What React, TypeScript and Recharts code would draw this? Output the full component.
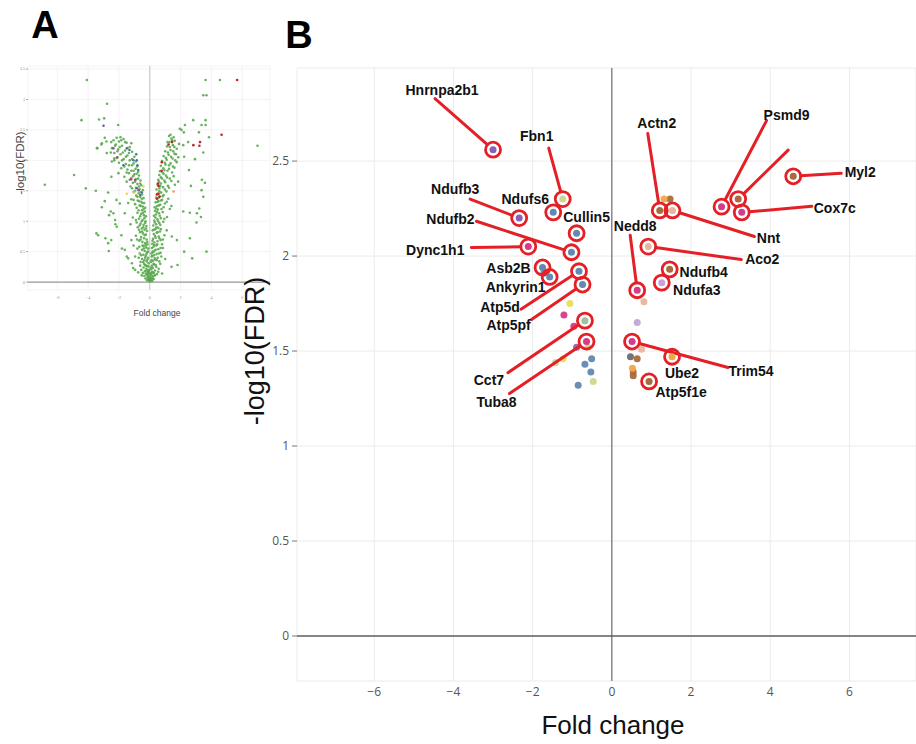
import React from 'react';
import { ScatterChart, Scatter, XAxis, YAxis, CartesianGrid, ReferenceLine } from 'recharts';

// ---- panel A: whole volcano plot (fold change vs -log10 FDR) ----
const aGreen: number[][] = [
  // outliers left
  [-4.08, 3.32], [-2.77, 2.93], [-4.43, 2.66], [-3.29, 2.67], [-2.96, 2.69], [-2.05, 2.58], [-2.92, 2.37],
  [-2.81, 2.31], [-3.14, 2.26], [-3.4, 2.2], [-2.53, 2.13], [-2.31, 2.03], [-4.91, 1.76], [-6.81, 1.6],
  [-4.15, 1.54], [-3.5, 1.5], [-2.7, 1.47], [-2.49, 1.73], [-2.92, 1.33], [-3.11, 1.23], [-2.53, 1.16],
  [-2.64, 1.1], [-2.23, 0.95], [-3.46, 0.8], [-3.35, 0.77], [-2.88, 0.72], [-2.7, 0.64], [-2.66, 0.51],
  [-2.5, 0.69], [-2.14, 0.91], [-1.84, 0.77], [-1.81, 0.55], [-1.62, 0.53], [-1.4, 0.39], [-1.49, 0.42],
  [-1.16, 0.31], [-1.08, 0.23], [-0.95, 0.2], [-1.19, 0.69], [-2.16, 1.35], [-1.94, 1.29], [-1.62, 1.13],
  [-2.36, 1.13], [-2.25, 1.02], [-3.43, 2.2], [-3.11, 2.28], [-2.79, 2.12], [-2.46, 1.98], [-2.03, 1.79],
  // outliers right
  [3.62, 3.32], [4.55, 3.32], [3.47, 3.07], [3.68, 3.07], [2.82, 2.66], [3.62, 2.66], [2.28, 2.58],
  [3.36, 2.58], [3.62, 2.58], [1.95, 2.52], [2.06, 2.5], [2.21, 2.46], [3.19, 2.46], [3.84, 2.38],
  [6.99, 2.24], [2.49, 2.3], [2.17, 2.25], [3.47, 2.13], [2.23, 2.06], [2.93, 2.02], [2.54, 1.84],
  [3.58, 1.63], [3.38, 1.68], [2.67, 1.58], [3.47, 1.4], [3.36, 1.51], [2.17, 1.16], [2.6, 1.14],
  [3.21, 1.21], [3.06, 1.13], [3.32, 1.07], [3.03, 0.98], [2.6, 0.72], [2.23, 0.5], [3.68, 0.5],
  [2.75, 0.39], [1.8, 0.28], [1.41, 0.25], [1.84, 1.65], [1.63, 1.6], [1.43, 0.75], [1.76, 0.69],
  // bottom of the V
  [-0.02, 0.01], [0.03, 0.02], [-0.06, 0.03], [0.08, 0.02], [-0.11, 0.05], [0.12, 0.04], [-0.04, 0.06],
  [0.05, 0.07], [-0.15, 0.08], [0.17, 0.07], [-0.09, 0.1], [0.1, 0.11], [-0.2, 0.12], [0.22, 0.1],
  [-0.01, 0.09], [-0.26, 0.14], [0.27, 0.15], [-0.13, 0.16], [0.14, 0.17], [-0.32, 0.18], [0.34, 0.19],
  [-0.06, 0.2], [0.07, 0.21], [-0.22, 0.22], [0.2, 0.23], [-0.4, 0.24], [0.42, 0.25], [-0.15, 0.26],
  [0.15, 0.27], [-0.3, 0.28], [0.3, 0.29], [-0.55, 0.2], [0.58, 0.22], [-0.75, 0.16], [0.8, 0.14],
  [-0.62, 0.27], [0.68, 0.3], [0.03, 0.14], [-0.04, 0.15],
  [-0.07, 0.04], [-0.18, 0.03], [-0.28, 0.06], [-0.12, 0.13], [-0.35, 0.1], [-0.45, 0.15], [-0.08, 0.18],
  [-0.19, 0.19], [-0.52, 0.11], [-0.24, 0.27], [-0.37, 0.3], [-0.1, 0.26], [0.06, 0.05], [0.16, 0.02],
  [0.26, 0.05], [0.11, 0.14], [0.33, 0.11], [0.46, 0.13], [0.08, 0.24], [0.2, 0.16], [0.55, 0.17],
  [0.25, 0.3], [0.38, 0.28],
  // arms
  [-0.08, 0.31], [0.09, 0.33], [-0.2, 0.34], [0.22, 0.35], [-0.35, 0.36], [0.36, 0.37], [-0.5, 0.38],
  [0.52, 0.4], [-0.12, 0.4], [0.13, 0.42], [-0.27, 0.43], [0.28, 0.44], [-0.42, 0.45], [0.44, 0.46],
  [-0.65, 0.47], [0.7, 0.48], [-0.17, 0.49], [0.18, 0.5], [-0.33, 0.51], [0.32, 0.52], [-0.5, 0.53],
  [0.55, 0.54], [-0.8, 0.55], [0.85, 0.56], [-0.23, 0.57], [0.24, 0.58], [-0.4, 0.59], [0.42, 0.6],
  [-0.95, 0.42], [1.0, 0.38], [-0.1, 0.55], [0.11, 0.47],
  [-0.6, 0.33], [-0.15, 0.37], [-0.3, 0.4], [-0.44, 0.33], [-0.72, 0.4], [-0.22, 0.46], [-0.56, 0.44],
  [-0.12, 0.5], [-0.38, 0.55], [-0.68, 0.58], [-0.27, 0.61], [-0.47, 0.6], [0.12, 0.36], [0.62, 0.34],
  [0.17, 0.43], [0.32, 0.39], [0.45, 0.36], [0.75, 0.42], [0.23, 0.49], [0.58, 0.47], [0.14, 0.56],
  [0.38, 0.53], [0.7, 0.56], [0.28, 0.61], [0.48, 0.62],
  [-0.15, 0.62], [0.16, 0.63], [-0.3, 0.64], [0.3, 0.65], [-0.48, 0.66], [0.5, 0.67], [-0.68, 0.68],
  [0.7, 0.69], [-0.2, 0.7], [0.21, 0.71], [-0.37, 0.72], [0.38, 0.73], [-0.56, 0.74], [0.58, 0.75],
  [-0.9, 0.76], [0.95, 0.77], [-0.25, 0.78], [0.26, 0.79], [-0.44, 0.8], [0.45, 0.81], [-0.63, 0.82],
  [0.66, 0.83], [-0.18, 0.84], [0.19, 0.85], [-0.34, 0.86], [0.36, 0.87], [-0.52, 0.88], [0.55, 0.89],
  [-0.78, 0.9], [0.8, 0.62], [-1.05, 0.6], [1.1, 0.85],
  [-0.16, 0.66], [-0.6, 0.7], [-0.33, 0.77], [-0.82, 0.7], [-0.5, 0.83], [-0.24, 0.88], [-0.7, 0.86],
  [-0.42, 0.9], [0.18, 0.68], [0.62, 0.72], [0.34, 0.76], [0.85, 0.7], [0.5, 0.82], [0.26, 0.86],
  [0.72, 0.87], [0.43, 0.9],
  [-0.22, 0.92], [0.23, 0.93], [-0.4, 0.94], [0.42, 0.95], [-0.6, 0.96], [0.62, 0.97], [-0.85, 0.98],
  [0.88, 0.99], [-0.28, 1.0], [0.3, 1.01], [-0.47, 1.02], [0.5, 1.03], [-0.7, 1.04], [0.72, 1.05],
  [-1.1, 1.06], [1.12, 1.07], [-0.25, 1.08], [0.27, 1.09], [-0.38, 1.1], [0.4, 1.11], [-0.56, 1.12],
  [0.6, 1.13], [-0.8, 1.14], [0.84, 1.15], [-0.32, 1.16], [0.34, 1.17], [-0.5, 1.18], [0.52, 1.19],
  [-1.25, 0.95], [1.3, 1.2],
  [-0.3, 0.97], [-0.66, 0.93], [-0.52, 1.0], [-0.9, 1.02], [-0.35, 1.05], [-0.62, 1.08], [-0.44, 1.14],
  [-0.72, 1.18], [-0.4, 1.2], [0.32, 0.98], [0.68, 0.94], [0.54, 1.0], [0.95, 1.04], [0.37, 1.06],
  [0.65, 1.09], [0.46, 1.15], [0.76, 1.2], [0.42, 1.21],
  [-0.3, 1.22], [0.32, 1.23], [-0.45, 1.24], [0.47, 1.25], [-0.66, 1.26], [0.68, 1.27], [-0.95, 1.28],
  [0.98, 1.29], [-0.36, 1.3], [0.38, 1.31], [-0.55, 1.32], [0.56, 1.33], [-0.78, 1.34], [0.8, 1.35],
  [-1.2, 1.36], [1.2, 1.37], [-0.4, 1.38], [0.42, 1.39], [-0.62, 1.4], [0.64, 1.41], [-0.88, 1.42],
  [0.9, 1.43], [-0.5, 1.44], [0.5, 1.45], [-0.72, 1.46], [0.74, 1.47], [-1.05, 1.48], [1.08, 1.49],
  [-1.4, 1.3], [1.4, 1.25],
  [-0.58, 1.25], [-0.85, 1.22], [-0.48, 1.3], [-0.7, 1.33], [-1.05, 1.35], [-0.52, 1.37], [-0.8, 1.4],
  [-0.6, 1.48], [-0.95, 1.5], [0.6, 1.26], [0.9, 1.23], [0.5, 1.32], [0.72, 1.34], [1.1, 1.32],
  [0.55, 1.38], [0.84, 1.41], [0.62, 1.49], [0.98, 1.52],
  [-0.45, 1.51], [0.44, 1.52], [-0.66, 1.53], [0.62, 1.54], [-0.9, 1.55], [0.86, 1.56], [-1.25, 1.57],
  [1.18, 1.58], [-0.55, 1.59], [0.5, 1.6], [-0.8, 1.61], [0.72, 1.62], [-1.1, 1.63], [1.0, 1.64],
  [-1.5, 1.65], [1.4, 1.66], [-0.6, 1.67], [0.55, 1.68], [-0.88, 1.69], [0.8, 1.7], [-1.2, 1.71],
  [1.12, 1.72], [-1.65, 1.73], [1.55, 1.74], [-0.7, 1.75], [0.62, 1.76], [-1.0, 1.77], [0.9, 1.78],
  [-1.35, 1.79],
  [-0.7, 1.57], [-1.15, 1.54], [-0.62, 1.62], [-0.95, 1.65], [-1.3, 1.68], [-0.75, 1.7], [-1.08, 1.74],
  [-0.85, 1.78], [0.68, 1.58], [1.25, 1.55], [0.6, 1.65], [0.95, 1.67], [1.3, 1.7], [0.72, 1.72],
  [1.05, 1.75], [0.82, 1.8],
  [-0.75, 1.81], [0.66, 1.82], [-1.05, 1.83], [0.95, 1.84], [-1.45, 1.85], [1.25, 1.86], [-1.85, 1.87],
  [1.6, 1.88], [-0.82, 1.9], [0.72, 1.91], [-1.15, 1.92], [1.02, 1.93], [-1.55, 1.94], [1.35, 1.95],
  [-2.0, 1.96], [1.75, 1.97], [-0.9, 1.98], [0.8, 1.99], [-1.3, 2.0], [1.1, 2.01], [-1.7, 2.02],
  [1.48, 2.03], [-2.15, 2.04], [1.85, 2.05], [-1.0, 2.06], [0.9, 2.07], [-1.45, 2.08], [1.22, 2.09],
  [-1.5, 1.8], [-1.2, 1.83], [-0.92, 1.86], [-1.65, 1.9], [-1.35, 1.92], [-1.05, 1.95], [-1.8, 2.0],
  [-1.15, 2.02], [-1.55, 2.06], [-2.3, 2.0], [1.45, 1.8], [1.15, 1.83], [0.88, 1.87], [1.5, 1.9],
  [1.25, 1.92], [0.98, 1.96], [1.65, 2.0], [1.05, 2.04], [1.38, 2.06],
  [-1.9, 2.1], [1.6, 2.11], [-2.3, 2.12], [-1.15, 2.14], [1.0, 2.15], [-1.6, 2.16], [1.35, 2.17],
  [-2.05, 2.18], [1.75, 2.19], [-2.45, 2.2], [-1.3, 2.22], [1.12, 2.23], [-1.8, 2.24], [1.5, 2.25],
  [-2.2, 2.26], [1.9, 2.27], [-1.5, 2.29], [1.28, 2.3], [-2.0, 2.31], [1.62, 2.32], [-2.35, 2.33],
  [-1.7, 2.35], [1.4, 2.36], [-2.15, 2.37], [1.25, 2.4], [-1.9, 2.38], [-2.5, 2.3],
  [-1.35, 2.12], [-1.75, 2.13], [-2.1, 2.15], [-1.45, 2.2], [-1.95, 2.22], [-1.6, 2.3], [-1.2, 2.28],
  [-2.25, 2.24], [-1.85, 2.33], [1.7, 2.1], [1.18, 2.13], [1.52, 2.15], [1.3, 2.22], [1.6, 2.22],
  [1.45, 2.33], [1.15, 2.3], [1.35, 2.42], [1.55, 2.38],
];
const aRed = [
  [5.67, 3.32], [4.66, 2.42], [3.26, 2.3], [3.22, 2.24], [2.83, 2.25], [1.45, 2.3], [1.22, 2.26],
  [0.78, 1.97], [0.77, 1.83], [0.57, 1.58], [0.53, 1.62], [0.63, 1.4], [0.46, 1.44], [0.46, 1.37], [0.57, 1.45],
];
const aPurple = [[-3.0, 2.57], [-2.36, 2.2], [-0.84, 1.54], [-0.73, 1.51]];
const aMagenta = [[-2.1, 2.05], [-1.21, 1.69], [-0.95, 1.68]];
const aBlue = [
  [-1.71, 1.92], [-1.49, 2.2], [-1.32, 2.17], [-0.88, 2.1], [-1.06, 2.0], [-0.84, 2.0], [-0.8, 1.92],
  [-0.75, 1.84], [-0.51, 1.47], [-0.62, 1.43],
];
const aYellow = [[-0.41, 1.57], [-0.99, 1.47], [-1.49, 1.45]];
const aOrange = [[1.54, 1.49]];

const foldTicks = [-6, -4, -2, 0, 2, 4, 6];
const aFdrTicks = [0, 0.5, 1, 1.5, 2, 2.5, 3, 3.5];
const bFdrTicks = [0, 0.5, 1, 1.5, 2, 2.5];

// ---- panel B: the significant proteins, named ----
const genes = [
  { name: 'Hnrnpa2b1', fc: -3.0, fdr: 2.56, group: 'purple' },
  { name: 'Fbn1', fc: -1.24, fdr: 2.3, group: 'lime' },
  { name: 'Ndufs6', fc: -1.48, fdr: 2.23, group: 'blue' },
  { name: 'Ndufb3', fc: -2.34, fdr: 2.2, group: 'purple' },
  { name: 'Cullin5', fc: -0.89, fdr: 2.12, group: 'blue' },
  { name: 'Ndufb2', fc: -1.02, fdr: 2.02, group: 'blue' },
  { name: 'Dync1h1', fc: -2.11, fdr: 2.05, group: 'magenta' },
  { name: 'Asb2B', fc: -1.75, fdr: 1.94, group: 'blue' },
  { name: 'Ankyrin1', fc: -1.57, fdr: 1.89, group: 'blue' },
  { name: 'Atp5d', fc: -0.83, fdr: 1.92, group: 'blue' },
  { name: 'Atp5pf', fc: -0.74, fdr: 1.85, group: 'blue' },
  { name: 'Cct7', fc: -0.68, fdr: 1.66, group: 'sage' },
  { name: 'Tuba8', fc: -0.64, fdr: 1.55, group: 'magenta' },
  { name: 'Nedd8', fc: 0.64, fdr: 1.82, group: 'magenta' },
  { name: 'Aco2', fc: 0.92, fdr: 2.05, group: 'peach' },
  { name: 'Ndufb4', fc: 1.46, fdr: 1.93, group: 'brown' },
  { name: 'Ndufa3', fc: 1.26, fdr: 1.86, group: 'lavender' },
  { name: 'Trim54', fc: 0.51, fdr: 1.55, group: 'magenta' },
  { name: 'Ube2', fc: 1.52, fdr: 1.47, group: 'orange' },
  { name: 'Atp5f1e', fc: 0.94, fdr: 1.34, group: 'brown' },
  { name: 'Actn2', fc: 1.21, fdr: 2.24, group: 'brown' },
  { name: 'Nnt', fc: 1.53, fdr: 2.24, group: 'peach' },
  { name: 'Psmd9', fc: 2.77, fdr: 2.26, group: 'magenta' },
  { name: '', fc: 3.19, fdr: 2.3, group: 'brown' },
  { name: 'Cox7c', fc: 3.28, fdr: 2.23, group: 'magenta' },
  { name: 'Myl2', fc: 4.58, fdr: 2.42, group: 'brown' },
];
const bOthers: Record<string, number[][]> = {
  blue: [[-0.51, 1.46], [-0.68, 1.43], [-0.53, 1.39], [-0.85, 1.32], [-1.72, 1.91]],
  magenta: [[-1.21, 1.69], [-0.96, 1.63]],
  purple: [[-0.89, 1.52]],
  yellow: [[-1.06, 1.75], [-1.23, 1.46]],
  lime: [[-0.6, 1.52], [-1.42, 1.44], [-0.47, 1.34]],
  peach: [[0.81, 1.76], [0.75, 1.51]],
  lavender: [[0.64, 1.65]],
  grey: [[0.47, 1.47]],
  brown: [[0.64, 1.46], [0.54, 1.39], [0.54, 1.37], [1.47, 2.3]],
  orange: [[0.52, 1.41], [1.32, 2.3]],
};

const palette: Record<string, string> = {
  blue: '#6389b0', magenta: '#d63a88', purple: '#8a61b4', lime: '#cbd78e', sage: '#9fc29c',
  yellow: '#ecdc5a', brown: '#a86b3d', orange: '#f3a744', peach: '#e8b59d', lavender: '#c3a5d7',
  grey: '#6d6d6d',
};

// label centre and leader-line start, in px relative to the point
const callouts: Record<string, { label?: number[]; line?: number[] }> = {
  Hnrnpa2b1: { label: [-51, -60], line: [-58, -51] },
  Fbn1: { label: [-26, -63], line: [-14, -51] },
  Ndufs6: { label: [-28, -13] },
  Ndufb3: { label: [-64, -29], line: [-49, -19] },
  Cullin5: { label: [10, -16] },
  Ndufb2: { label: [-121, -33], line: [-95, -31] },
  Dync1h1: { label: [-93, 3], line: [-57, 1] },
  Asb2B: { label: [-34, 1] },
  Ankyrin1: { label: [-34, 10] },
  Atp5d: { label: [-79, 36], line: [-58, 38] },
  Atp5pf: { label: [-74, 40], line: [-51, 35] },
  Cct7: { label: [-96, 59], line: [-77, 52] },
  Tuba8: { label: [-90, 60], line: [-77, 52] },
  Nedd8: { label: [-2, -64], line: [-7, -55] },
  Aco2: { label: [114, 12], line: [93, 13] },
  Ndufb4: { label: [34, 3] },
  Ndufa3: { label: [35, 7] },
  Trim54: { label: [119, 29], line: [96, 26] },
  Ube2: { label: [10, 16] },
  Atp5f1e: { label: [32, 11] },
  Actn2: { label: [-3, -87], line: [-12, -77] },
  Nnt: { label: [96, 28], line: [82, 26] },
  Psmd9: { label: [65, -92], line: [45, -86] },
  '': { line: [50, -49] },
  Cox7c: { label: [93, -4], line: [70, -6] },
  Myl2: { label: [67, -4], line: [48, -3] },
};

const RED = '#e41f26';
const ARIAL = '"Liberation Sans", Arial, sans-serif';
const toXY = (pts: number[][]) => pts.map(([x, y]) => ({ x, y }));
const fmtFold = (v: number) => (v < 0 ? '\u2212' + Math.abs(v) : String(v));

const dot = (r: number, fill: string, opacity = 1) => (p: any) => (
  <circle cx={p.cx} cy={p.cy} r={r} fill={fill} fillOpacity={opacity} />
);

const GeneMark = (p: any) => {
  const { cx, cy, payload } = p;
  const c = callouts[payload.name] || {};
  const R = 7.5;
  let line = null;
  if (c.line) {
    const [dx, dy] = c.line;
    const d = Math.hypot(dx, dy);
    line = (
      <line x1={cx + dx} y1={cy + dy} x2={cx + (dx / d) * R} y2={cy + (dy / d) * R}
        stroke={RED} strokeWidth={3} strokeLinecap="round" />
    );
  }
  return (
    <g>
      {line}
      <circle cx={cx} cy={cy} r={3.5} fill={palette[payload.group]} />
      <circle cx={cx} cy={cy} r={R} fill="none" stroke={RED} strokeWidth={2.8} />
      {c.label && payload.name && (
        <text x={cx + c.label[0]} y={cy + c.label[1]} textAnchor="middle" dominantBaseline="central"
          fontFamily={ARIAL} fontWeight="bold" fontSize={14} fill="#111">
          {payload.name}
        </text>
      )}
    </g>
  );
};

const PanelA = () => (
  <ScatterChart width={280} height={330} margin={{ top: 66, right: 10, bottom: 26, left: 14 }}>
    <CartesianGrid stroke="#eeeeee" strokeWidth={0.7} />
    <XAxis type="number" dataKey="x" domain={[-7.9, 7.8]} ticks={foldTicks} height={14}
      tickFormatter={fmtFold} tickLine={false} axisLine={false} tickSize={0} tickMargin={6}
      tick={{ fontSize: 4, fill: '#888' }} allowDataOverflow />
    <YAxis type="number" dataKey="y" domain={[-0.13, 3.55]} ticks={aFdrTicks} width={14}
      tickSize={2} tickMargin={1} tickLine={{ stroke: '#aaa' }} axisLine={false}
      tick={{ fontSize: 4, fill: '#888' }} allowDataOverflow />
    <ReferenceLine y={0} stroke="#9a9a9a" strokeWidth={1.3} />
    <ReferenceLine x={0} stroke="#c4c4c4" strokeWidth={1} />
    <Scatter data={toXY(aGreen)} shape={dot(1.3, '#5aa94f', 0.9)} isAnimationActive={false} />
    <Scatter data={toXY(aYellow)} shape={dot(1.25, '#e8d44d')} isAnimationActive={false} />
    <Scatter data={toXY(aOrange)} shape={dot(1.25, '#f0a040')} isAnimationActive={false} />
    <Scatter data={toXY(aBlue)} shape={dot(1.25, '#4f6fa8')} isAnimationActive={false} />
    <Scatter data={toXY(aPurple)} shape={dot(1.25, '#7a4fa8')} isAnimationActive={false} />
    <Scatter data={toXY(aMagenta)} shape={dot(1.25, '#cc2f8a')} isAnimationActive={false} />
    <Scatter data={toXY(aRed)} shape={dot(1.3, '#c42026')} isAnimationActive={false} />
  </ScatterChart>
);

const PanelB = () => (
  <ScatterChart width={676} height={744} margin={{ top: 68, right: 0, bottom: 33, left: 17 }}>
    <CartesianGrid stroke="#ebebeb" strokeWidth={1} />
    <XAxis type="number" dataKey="x" domain={[-7.95, 7.68]} ticks={foldTicks} height={30}
      tickFormatter={fmtFold} tickLine={false} axisLine={false} tickSize={0} tickMargin={6}
      tick={{ fontSize: 12, fill: '#555', fontFamily: '"Open Sans", sans-serif' }} allowDataOverflow />
    <YAxis type="number" dataKey="y" domain={[-0.237, 2.99]} ticks={bFdrTicks} width={40}
      tickSize={5} tickMargin={3} tickLine={{ stroke: '#777' }} axisLine={false}
      tick={{ fontSize: 12, fill: '#555', fontFamily: '"Open Sans", sans-serif' }} allowDataOverflow />
    <ReferenceLine y={0} stroke="#858585" strokeWidth={2} />
    <ReferenceLine x={0} stroke="#555" strokeWidth={1} />
    {Object.keys(bOthers).map((g) => (
      <Scatter key={g} data={toXY(bOthers[g])} shape={dot(3.5, palette[g], 0.95)} isAnimationActive={false} />
    ))}
    <Scatter data={genes.map((d) => ({ x: d.fc, y: d.fdr, name: d.name, group: d.group }))}
      shape={GeneMark} isAnimationActive={false} />
  </ScatterChart>
);

export default function App() {
  return (
    <div style={{ position: 'absolute', left: 0, top: 0, width: 916, height: 744, background: '#fff' }}>
      <div style={{ position: 'absolute', left: 0, top: 0 }}>
        <PanelA />
      </div>
      <div style={{ position: 'absolute', left: 240, top: 0 }}>
        <PanelB />
      </div>
      <svg width={916} height={744} style={{ position: 'absolute', left: 0, top: 0, pointerEvents: 'none' }}>
        <text x={45} y={38} textAnchor="middle" fontFamily={ARIAL} fontWeight="bold" fontSize={38}>A</text>
        <text x={299} y={48} textAnchor="middle" fontFamily={ARIAL} fontWeight="bold" fontSize={38}>B</text>
        <text transform="translate(24,163) rotate(-90)" textAnchor="middle" fontFamily={ARIAL} fontSize={11.5} fill="#444">-log10(FDR)</text>
        <text x={157} y={316} textAnchor="middle" fontFamily={ARIAL} fontSize={8.5} fill="#444">Fold change</text>
        <text transform="translate(264,351) rotate(-90)" textAnchor="middle" fontFamily={ARIAL} fontSize={27} fill="#111">-log10(FDR)</text>
        <text x={613} y={734} textAnchor="middle" fontFamily={ARIAL} fontSize={26} fill="#111">Fold change</text>
      </svg>
    </div>
  );
}
